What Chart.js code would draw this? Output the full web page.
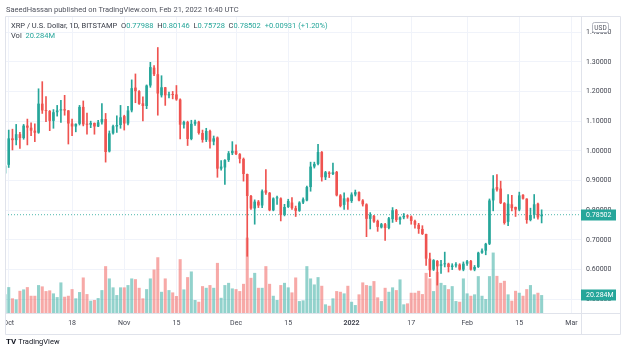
<!DOCTYPE html>
<html>
<head>
<meta charset="utf-8">
<script src="https://cdn.jsdelivr.net/npm/chart.js@4.4.1/dist/chart.umd.min.js"></script>
<style>
  html, body { margin: 0; padding: 0; background: #fff; }
  body { width: 626px; height: 350px; position: relative; overflow: hidden; font-family: Roboto, "Liberation Sans", sans-serif; }
  #chart { position: absolute; left: 5px; top: 0; }
  .txt { position: absolute; white-space: nowrap; font-size: 7.5px; line-height: 9px; }
  #header { left: 6px; top: 5px; color: #50535e; }
  #legend { left: 11px; top: 21px; color: #363a45; }
  #vol { left: 11px; top: 31px; color: #363a45; }
  #legend b, #vol b { font-weight: normal; color: #26a69a; }
  #legend i { font-style: normal; margin-left: 4px; }
  #footer { left: 6px; top: 337px; color: #131722; font-size: 7.5px; }
  #footer .logo { font-weight: bold; font-size: 8px; margin-right: 2px; }
</style>
</head>
<body>
<canvas id="chart" width="621" height="350"></canvas>
<div class="txt" id="header">SaeedHassan published on TradingView.com, Feb 21, 2022 16:40 UTC</div>
<div class="txt" id="legend"></div>
<div class="txt" id="vol"></div>
<div class="txt" id="footer"><span class="logo">TV</span>TradingView</div>
<script>
  // daily candles, 2021-09-30 .. 2022-02-21 (XRP/USD, Bitstamp)
  const firstDay = '2021-09-30';

  const open = [
    0.924,
    0.953, 1.042, 1.036, 1.056, 1.043, 1.085, 1.078, 1.068, 1.061, 1.159, 1.136, 1.134, 1.101, 1.130, 1.136, 1.140,
    1.136, 1.092, 1.082, 1.091, 1.148, 1.089, 1.088, 1.094, 1.082, 1.096, 1.107, 0.998, 1.059, 1.082, 1.087,
    1.117, 1.092, 1.136, 1.213, 1.201, 1.160, 1.151, 1.220, 1.280, 1.258, 1.187, 1.214, 1.187, 1.190, 1.190,
    1.173, 1.088, 1.097, 1.040, 1.091, 1.098, 1.060, 1.037, 1.067, 1.031, 1.045, 0.940, 0.944, 0.969, 0.992,
    1.000, 0.989, 0.973, 0.922, 0.848, 0.806, 0.829, 0.816, 0.867, 0.859, 0.800, 0.840, 0.840, 0.784, 0.811,
    0.826, 0.807, 0.798, 0.826, 0.833, 0.878, 0.947, 0.956, 0.996, 0.911, 0.927, 0.922, 0.929, 0.850, 0.818, 0.840,
    0.831, 0.853, 0.861, 0.833, 0.820, 0.771, 0.781, 0.764, 0.742, 0.753, 0.740, 0.770, 0.800, 0.768, 0.776,
    0.781, 0.779, 0.764, 0.751, 0.737, 0.720, 0.637, 0.600, 0.629, 0.613, 0.618, 0.620, 0.609, 0.614, 0.617, 0.600,
    0.620, 0.629, 0.600, 0.609, 0.657, 0.664, 0.687, 0.833, 0.878, 0.873, 0.824, 0.761, 0.820, 0.811, 0.802,
    0.852, 0.839, 0.767, 0.784, 0.822, 0.77988
  ];
  const high = [
    0.960,
    1.070, 1.073, 1.089, 1.062, 1.089, 1.107, 1.094, 1.091, 1.209, 1.233, 1.183, 1.136, 1.139, 1.153, 1.170, 1.187,
    1.136, 1.107, 1.091, 1.153, 1.168, 1.127, 1.100, 1.094, 1.103, 1.159, 1.126, 1.067, 1.087, 1.118, 1.153,
    1.120, 1.150, 1.239, 1.259, 1.203, 1.182, 1.222, 1.298, 1.287, 1.348, 1.253, 1.214, 1.198, 1.200, 1.220,
    1.175, 1.100, 1.100, 1.103, 1.104, 1.100, 1.070, 1.076, 1.070, 1.050, 1.047, 0.967, 0.971, 0.998, 1.031,
    1.020, 0.991, 0.976, 0.922, 0.850, 0.835, 0.833, 0.869, 0.937, 0.860, 0.842, 0.848, 0.842, 0.820, 0.837,
    0.843, 0.814, 0.829, 0.842, 0.881, 0.962, 0.962, 1.022, 0.998, 0.931, 0.930, 0.959, 0.931, 0.853, 0.859, 0.842,
    0.859, 0.868, 0.862, 0.836, 0.822, 0.792, 0.783, 0.767, 0.756, 0.756, 0.776, 0.809, 0.803, 0.778, 0.789,
    0.784, 0.781, 0.767, 0.756, 0.748, 0.720, 0.656, 0.634, 0.631, 0.631, 0.659, 0.622, 0.620, 0.624, 0.620, 0.626,
    0.631, 0.631, 0.614, 0.659, 0.670, 0.689, 0.838, 0.917, 0.920, 0.898, 0.826, 0.853, 0.850, 0.811, 0.861,
    0.853, 0.839, 0.807, 0.853, 0.824, 0.80146
  ];
  const low = [
    0.915,
    0.944, 1.003, 1.020, 1.008, 1.039, 1.020, 1.051, 1.031, 1.059, 1.126, 1.098, 1.068, 1.076, 1.117, 1.096, 1.120,
    1.023, 1.051, 1.064, 1.087, 1.084, 1.056, 1.078, 1.056, 1.081, 1.090, 0.962, 0.996, 1.056, 1.062, 1.076,
    1.070, 1.087, 1.131, 1.162, 1.156, 1.101, 1.142, 1.214, 1.253, 1.120, 1.181, 1.153, 1.178, 1.175, 1.170,
    1.040, 1.076, 1.018, 1.037, 1.086, 1.056, 1.029, 1.031, 1.009, 1.020, 0.911, 0.935, 0.887, 0.964, 0.987,
    0.987, 0.959, 0.898, 0.645, 0.803, 0.753, 0.809, 0.809, 0.853, 0.798, 0.798, 0.820, 0.764, 0.781, 0.809,
    0.803, 0.779, 0.796, 0.822, 0.831, 0.864, 0.942, 0.953, 0.898, 0.903, 0.910, 0.920, 0.848, 0.811, 0.803, 0.803,
    0.826, 0.848, 0.831, 0.814, 0.711, 0.737, 0.759, 0.729, 0.740, 0.698, 0.737, 0.759, 0.762, 0.753, 0.771,
    0.773, 0.753, 0.740, 0.722, 0.718, 0.614, 0.576, 0.597, 0.548, 0.587, 0.609, 0.592, 0.600, 0.608, 0.598, 0.596,
    0.614, 0.598, 0.596, 0.607, 0.655, 0.650, 0.684, 0.798, 0.864, 0.822, 0.753, 0.748, 0.798, 0.779, 0.798,
    0.837, 0.756, 0.764, 0.773, 0.770, 0.75728
  ];
  const close = [
    0.951,
    1.042, 1.036, 1.056, 1.043, 1.085, 1.078, 1.068, 1.061, 1.159, 1.136, 1.134, 1.101, 1.130, 1.136, 1.140, 1.136,
    1.092, 1.082, 1.091, 1.148, 1.089, 1.088, 1.094, 1.082, 1.096, 1.107, 0.996, 1.059, 1.083, 1.087, 1.113,
    1.092, 1.136, 1.211, 1.201, 1.158, 1.151, 1.220, 1.282, 1.258, 1.193, 1.214, 1.187, 1.190, 1.188, 1.173,
    1.088, 1.097, 1.040, 1.091, 1.098, 1.060, 1.037, 1.067, 1.031, 1.042, 0.940, 0.947, 0.969, 0.992, 1.000,
    0.989, 0.973, 0.922, 0.848, 0.806, 0.829, 0.816, 0.864, 0.859, 0.800, 0.840, 0.842, 0.784, 0.811, 0.831,
    0.807, 0.798, 0.826, 0.837, 0.878, 0.947, 0.956, 0.996, 0.911, 0.928, 0.922, 0.928, 0.850, 0.814, 0.840, 0.829,
    0.853, 0.861, 0.833, 0.820, 0.771, 0.784, 0.762, 0.744, 0.753, 0.740, 0.773, 0.800, 0.767, 0.776, 0.781,
    0.779, 0.764, 0.751, 0.737, 0.720, 0.637, 0.598, 0.632, 0.611, 0.618, 0.621, 0.609, 0.614, 0.618, 0.600, 0.620,
    0.628, 0.600, 0.609, 0.657, 0.664, 0.687, 0.833, 0.873, 0.869, 0.824, 0.757, 0.822, 0.807, 0.802, 0.850,
    0.839, 0.767, 0.784, 0.820, 0.77571, 0.78502
  ];
  // volume in millions
  const volume = [
    21.1,
    29.3, 16.6, 15.4, 25.1, 26.7, 29.3, 19.5, 19.5, 31.6, 30.1, 24.8, 25.6, 22.2, 18.0, 34.6, 18.4,
    19.5, 27.0, 16.6, 23.7, 40.2, 21.4, 13.9, 14.7, 16.9, 25.9, 53.0, 39.1, 29.0, 20.3, 29.0,
    29.0, 31.6, 39.1, 38.3, 28.5, 16.6, 27.0, 39.1, 49.2, 63.1, 24.0, 39.1, 25.9, 23.3, 19.2,
    60.9, 26.7, 40.6, 47.0, 14.7, 12.7, 30.4, 28.5, 31.6, 28.5, 56.7, 17.2, 31.6, 34.1, 27.8,
    27.0, 24.8, 33.0, 85.3, 39.8, 45.4, 28.5, 28.5, 53.0, 33.0, 19.5, 14.7, 31.6, 34.1, 29.0,
    23.3, 40.2, 13.5, 14.3, 53.0, 39.1, 32.3, 40.6, 30.8, 9.8, 8.2, 16.6, 24.8, 24.0, 22.2, 30.8,
    12.7, 9.0, 21.1, 34.6, 31.6, 30.8, 36.1, 17.7, 13.5, 28.5, 24.0, 29.0, 25.9, 38.0, 9.8,
    10.9, 22.9, 22.9, 25.1, 21.4, 45.4, 39.1, 24.8, 46.5, 34.1, 31.6, 27.0, 30.4, 13.5, 12.7, 39.1,
    22.2, 19.5, 21.1, 41.7, 19.5, 15.8, 41.7, 68.4, 42.0, 34.1, 36.4, 21.1, 13.9, 25.1, 22.9,
    19.5, 27.0, 31.6, 21.1, 22.9, 20.284
  ];

  const tickDates = ['2021-10-01', '2021-10-18', '2021-11-01', '2021-11-15', '2021-12-01', '2021-12-15',
                     '2022-01-01', '2022-01-17', '2022-02-01', '2022-02-15', '2022-03-01'];
  const tickLabels = ['Oct', '18', 'Nov', '15', 'Dec', '15', '2022', '17', 'Feb', '15', 'Mar'];
  const priceTicks = [0.5, 0.6, 0.7, 0.8, 0.9, 1.0, 1.1, 1.2, 1.3, 1.4];

  const upColor = '#26a69a';
  const downColor = '#ef5350';
  const upVol = 'rgba(38,166,154,0.5)';
  const downVol = 'rgba(239,83,80,0.5)';
  const gridColor = '#f0f3fa';
  const frameColor = '#e0e3eb';
  const textColor = '#434651';
  const family = 'Roboto, "Liberation Sans", sans-serif';

  const dayMs = 864e5;
  const dayIndex = d => (Date.parse(d) - Date.parse(firstDay)) / dayMs;
  const tickIdx = tickDates.map(dayIndex);
  const last = close.length - 1;
  const isUp = i => close[i] >= open[i];

  // visible time range (in days from firstDay) and value ranges
  const viewStart = 0, viewEnd = 154.56;
  const priceMin = 0.454, priceMax = 1.4507;
  const volMax = 335;

  // legend text
  const chg = close[last] - close[last - 1];
  document.getElementById('legend').innerHTML =
    'XRP / U.S. Dollar, 1D, BITSTAMP&nbsp; O<b>' + open[last].toFixed(5) + '</b>&nbsp; H<b>' + high[last].toFixed(5) +
    '</b>&nbsp; L<b>' + low[last].toFixed(5) + '</b>&nbsp; C<b>' + close[last].toFixed(5) + '</b><b><i>+' +
    chg.toFixed(5) + ' (+' + (chg / close[last - 1] * 100).toFixed(2) + '%)</i></b>';
  document.getElementById('vol').innerHTML = 'Vol&nbsp; <b>' + volume[last].toFixed(3) + 'M</b>';

  const frame = {
    id: 'frame',
    afterDraw(chart) {
      const { ctx, chartArea: a } = chart;
      ctx.save();
      ctx.strokeStyle = frameColor;
      ctx.lineWidth = 1;
      ctx.beginPath();
      ctx.moveTo(0.5, a.top - 0.5); ctx.lineTo(615.5, a.top - 0.5);
      ctx.lineTo(615.5, 334.5); ctx.lineTo(0.5, 334.5); ctx.closePath();
      ctx.moveTo(a.right + 0.5, a.top); ctx.lineTo(a.right + 0.5, 334.5);
      ctx.moveTo(0.5, a.bottom + 0.5); ctx.lineTo(615.5, a.bottom + 0.5);
      ctx.stroke();
      ctx.restore();
    }
  };

  const badges = {
    id: 'badges',
    afterDraw(chart) {
      const { ctx, chartArea: a, scales } = chart;
      ctx.save();
      ctx.font = '7px ' + family;
      ctx.textBaseline = 'middle';
      const tag = (y, text, bg) => {
        const yy = Math.round(y);
        ctx.fillStyle = bg;
        ctx.fillRect(a.right, yy - 5.5, 35, 11);
        ctx.fillStyle = '#ffffff';
        ctx.fillText(text, a.right + 5, yy + 0.5);
      };
      tag(scales.y.getPixelForValue(close[last]), close[last].toFixed(5), isUp(last) ? upColor : downColor);
      tag(scales.yv.getPixelForValue(volume[last]), volume[last].toFixed(3) + 'M', isUp(last) ? upColor : downColor);
      // currency tag
      ctx.fillStyle = '#ffffff';
      ctx.strokeStyle = '#b2b5be';
      ctx.beginPath();
      ctx.roundRect(a.right + 11.5, a.top + 5.5, 16, 10, 2);
      ctx.fill(); ctx.stroke();
      ctx.fillStyle = '#50535e';
      ctx.font = '6.5px ' + family;
      ctx.textAlign = 'center';
      ctx.fillText('USD', a.right + 19.5, a.top + 11);
      ctx.restore();
    }
  };

  const pts = (arr) => arr.map((v, i) => ({ x: i, y: v }));

  new Chart(document.getElementById('chart'), {
    type: 'bar',
    data: {
      datasets: [
        {
          label: 'body',
          order: 1,
          yAxisID: 'y',
          data: open.map((o, i) => ({ x: i, y: [o, close[i]] })),
          backgroundColor: c => isUp(c.dataIndex) ? upColor : downColor,
          barPercentage: 0.7,
          categoryPercentage: 1,
          minBarLength: 1,
          grouped: false,
          clip: 0
        },
        {
          label: 'wick',
          order: 2,
          yAxisID: 'y',
          data: low.map((l, i) => ({ x: i, y: [l, high[i]] })),
          backgroundColor: c => isUp(c.dataIndex) ? upColor : downColor,
          barThickness: 1,
          grouped: false,
          clip: 0
        },
        {
          type: 'line',
          label: 'last',
          order: 3,
          yAxisID: 'y',
          data: [{ x: viewStart, y: close[last] }, { x: viewEnd, y: close[last] }],
          borderColor: 'rgba(38,166,154,0.8)',
          borderWidth: 1,
          borderDash: [1, 2],
          pointRadius: 0
        },
        {
          label: 'volume',
          order: 4,
          yAxisID: 'yv',
          data: pts(volume),
          backgroundColor: c => isUp(c.dataIndex) ? upVol : downVol,
          barPercentage: 0.82,
          categoryPercentage: 1,
          grouped: false,
          clip: 0
        }
      ]
    },
    options: {
      responsive: false,
      animation: false,
      devicePixelRatio: 1,
      layout: { padding: { left: 0, top: 17, right: 5, bottom: 16 } },
      plugins: { legend: { display: false }, tooltip: { enabled: false } },
      scales: {
        x: {
          type: 'linear',
          min: viewStart,
          max: viewEnd,
          offset: false,
          bounds: 'data',
          grid: { color: gridColor, drawTicks: false, offset: false },
          border: { display: false },
          afterBuildTicks: s => { s.ticks = tickIdx.map(v => ({ value: v })); },
          afterFit: s => { s.height = 21; s.paddingLeft = 0; s.paddingRight = 0; },
          ticks: {
            autoSkip: false,
            maxRotation: 0,
            minRotation: 0,
            padding: 6,
            color: textColor,
            font: c => ({ family, size: 7, weight: tickLabels[c.index] === '2022' ? 'bold' : 'normal' }),
            callback: (v, i) => tickLabels[i]
          }
        },
        y: {
          position: 'right',
          min: priceMin,
          max: priceMax,
          grid: { color: gridColor, drawTicks: false },
          border: { display: false },
          afterBuildTicks: s => { s.ticks = priceTicks.map(v => ({ value: v })); },
          afterFit: s => { s.width = 40; s.paddingTop = 0; s.paddingBottom = 0; },
          ticks: {
            padding: 5,
            color: textColor,
            font: { family, size: 7 },
            callback: v => Number(v).toFixed(5)
          }
        },
        yv: {
          display: false,
          min: 0,
          max: volMax
        }
      }
    },
    plugins: [frame, badges]
  });
</script>
</body>
</html>
